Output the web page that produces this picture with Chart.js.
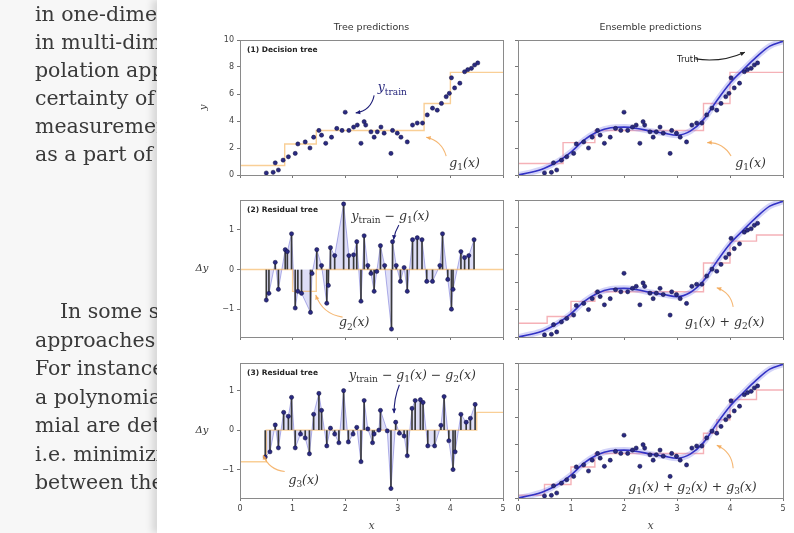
<!DOCTYPE html>
<html>
<head>
<meta charset="utf-8">
<script src="https://cdn.jsdelivr.net/npm/chart.js@4.4.0/dist/chart.umd.min.js"></script>
<style>
html, body { margin: 0; padding: 0; }
body { width: 794px; height: 533px; overflow: hidden; background: #f7f7f7; position: relative; filter: blur(0.55px); }
.page { position: absolute; left: 0; top: 0; width: 158px; height: 533px; overflow: hidden;
        font-family: "DejaVu Serif", serif; font-size: 20.5px; color: #3a3a3a; }
.page div { position: absolute; left: 35px; white-space: nowrap; line-height: 28px; }
#fig { position: absolute; left: 157px; top: 0; width: 637px; height: 533px; background: #fff;
       box-shadow: -5px 0 7px rgba(0,0,0,0.13); }
canvas { position: absolute; }
</style>
</head>
<body>
<div class="page">
  <div style="top:0px">in one-dimensional<br>in multi-dimensional<br>polation approaches<br>certainty of<br>measurements<br>as a part of</div>
  <div style="top:297px; line-height:28.5px"><span style="padding-left:25px">In some situations</span><br>approaches<br>For instance<br>a polynomial<br>mial are determined<br>i.e. minimizing<br>between the</div>
</div>
<div id="fig"></div>
<canvas id="tl" width="340" height="167" style="left:170px;top:18px"></canvas>
<canvas id="tr" width="286" height="167" style="left:508px;top:18px"></canvas>
<canvas id="ml" width="340" height="157" style="left:170px;top:190px"></canvas>
<canvas id="mr" width="286" height="157" style="left:508px;top:190px"></canvas>
<canvas id="bl" width="340" height="180" style="left:170px;top:353px"></canvas>
<canvas id="br" width="286" height="180" style="left:508px;top:353px"></canvas>
<script>
// training data
const xTrain = [0.5,0.63,0.67,0.73,0.82,0.92,1.05,1.1,1.24,1.33,1.4,1.5,1.55,1.63,1.74,1.84,1.94,2.0,2.07,2.16,
  2.23,2.3,2.36,2.39,2.49,2.55,2.61,2.68,2.74,2.87,2.9,2.99,3.06,3.18,3.28,3.37,3.47,3.56,3.66,3.75,
  3.83,3.92,3.98,4.02,4.08,4.18,4.27,4.33,4.4,4.46,4.52];
const yTrain = [0.15,0.2,0.9,0.37,1.1,1.35,1.6,2.3,2.45,2.0,2.8,3.3,2.95,2.35,2.8,3.45,3.3,4.65,3.3,3.55,
  3.7,2.35,3.95,3.7,3.2,2.8,3.2,3.55,3.1,1.6,3.3,3.1,2.8,2.45,3.7,3.85,3.85,4.45,4.95,4.8,
  5.3,5.8,6.05,7.2,6.45,6.8,7.65,7.8,7.9,8.15,8.3];

// residuals after tree 1 and after trees 1+2
const resX1 = [0.5,0.55,0.67,0.73,0.86,0.9,0.98,1.05,1.1,1.17,1.34,1.37,1.46,1.55,1.65,1.68,1.72,1.8,1.97,2.07,
  2.16,2.22,2.3,2.36,2.43,2.49,2.55,2.6,2.67,2.75,2.88,2.9,2.97,3.05,3.12,3.18,3.28,3.37,3.46,3.55,
  3.66,3.8,3.85,3.95,4.02,4.05,4.2,4.27,4.35,4.45];
const resY1 = [-0.77,-0.6,0.18,-0.5,0.5,0.45,0.9,-0.97,-0.55,-0.6,-1.08,-0.1,0.5,0.1,-0.85,-0.4,0.55,0.35,1.65,0.35,
  0.37,0.7,-0.8,0.85,0.1,-0.1,-0.55,-0.05,0.6,0.1,-1.5,0.7,0.1,-0.3,0.05,-0.55,0.75,0.8,0.75,-0.3,
  -0.3,0.1,0.9,-0.25,-1.0,-0.5,0.45,0.3,0.35,0.75];
const resX2 = [0.48,0.57,0.67,0.73,0.83,0.92,0.98,1.05,1.15,1.24,1.32,1.4,1.5,1.55,1.65,1.72,1.8,1.88,1.97,2.06,
  2.15,2.22,2.3,2.36,2.43,2.52,2.55,2.64,2.67,2.8,2.87,2.96,3.03,3.12,3.18,3.27,3.33,3.43,3.48,3.57,
  3.7,3.82,3.88,3.97,4.05,4.09,4.2,4.3,4.38,4.47];
const resY2 = [-0.68,-0.55,0.13,-0.45,0.45,0.35,0.83,-0.45,-0.1,-0.2,-0.6,0.4,0.93,0.5,-0.4,0.05,-0.1,-0.32,1.0,-0.3,
  -0.1,0.07,-0.8,0.75,0.03,-0.32,-0.1,0,0.5,-0.02,-1.48,0.2,-0.08,-0.15,-0.65,0.55,0.75,0.77,0.7,-0.4,
  -0.4,0.12,0.85,-0.27,-1.0,-0.55,0.4,0.2,0.3,0.65];

// true function
const truthX = [0,0.25,0.5,0.75,1,1.25,1.5,1.75,2,2.25,2.5,2.75,3,3.25,3.5,3.75,4,4.25,4.5,4.75,5];
const truthY = [0,0.2,0.5,1.0,1.7,2.6,3.2,3.5,3.55,3.45,3.25,3.1,2.95,3.25,4.1,5.5,6.8,7.8,8.75,9.55,9.9];

// tree step functions: edges and levels
const g1Edges = [0,0.85,1.45,3.5,4.0,5];
const g1Levels = [0.7,2.3,3.3,5.3,7.6];
const g2Edges = [0,1.0,1.45,5];
const g2Levels = [0,-0.55,0];
const g3Edges = [0,0.5,4.5,5];
const g3Levels = [-0.8,0,0.45];
const ens1Levels = [0.85,2.4,3.3,5.3,7.6];
const ens2Edges = [0,0.55,1.0,1.45,3.5,4.0,4.5,5];
const ens2Levels = [1.0,1.5,2.6,3.3,5.4,7.0,7.45];
const ens3Edges = [0,0.5,1.0,1.45,3.5,3.75,4.0,4.5,5];
const ens3Levels = [0.2,1.0,2.3,3.3,4.8,5.8,7.3,8.0];

const xTicks = [0,1,2,3,4,5];

const NAVY = '#1f1f78';
const ORANGE = 'rgba(245,175,80,0.6)';
const ARROW_OR = 'rgba(242,165,80,0.8)';
const PINK = 'rgba(238,125,135,0.6)';

Chart.defaults.font.family = '"DejaVu Sans", sans-serif';
Chart.defaults.font.size = 8;
Chart.defaults.color = '#444';

function pts(xs, ys) { return xs.map((x, i) => ({ x: x, y: ys[i] })); }
function stepPts(edges, levels) {
  const p = levels.map((v, i) => ({ x: edges[i], y: v }));
  p.push({ x: edges[edges.length - 1], y: levels[levels.length - 1] });
  return p;
}

// little math text: y_{train} - g_{1}(x)
function drawMath(ctx, str, x, y, size, color, align) {
  const parts = [];
  const re = /_\{([^}]*)\}/g;
  let last = 0, m;
  while ((m = re.exec(str))) {
    if (m.index > last) parts.push({ t: str.slice(last, m.index), sub: false });
    parts.push({ t: m[1], sub: true });
    last = re.lastIndex;
  }
  if (last < str.length) parts.push({ t: str.slice(last), sub: false });
  const fMain = 'italic ' + size + 'px "DejaVu Serif"';
  const fSub = Math.round(size * 0.68) + 'px "DejaVu Serif"';
  let total = 0;
  parts.forEach(p => { ctx.font = p.sub ? fSub : fMain; p.w = ctx.measureText(p.t).width; total += p.w; });
  let cx = align === 'center' ? x - total / 2 : (align === 'right' ? x - total : x);
  const base = y + size * 0.33;
  ctx.fillStyle = color;
  ctx.textAlign = 'left';
  ctx.textBaseline = 'alphabetic';
  parts.forEach(p => {
    ctx.font = p.sub ? fSub : fMain;
    ctx.fillText(p.t, cx, p.sub ? base + size * 0.25 : base);
    cx += p.w;
  });
}

function drawArrow(ctx, x0, y0, x1, y1, bend, color) {
  const mx = (x0 + x1) / 2, my = (y0 + y1) / 2, dx = x1 - x0, dy = y1 - y0;
  const cx = mx - dy * bend, cy = my + dx * bend;
  ctx.strokeStyle = color;
  ctx.fillStyle = color;
  ctx.lineWidth = 1.1;
  ctx.beginPath();
  ctx.moveTo(x0, y0);
  ctx.quadraticCurveTo(cx, cy, x1, y1);
  ctx.stroke();
  const ang = Math.atan2(y1 - cy, x1 - cx), L = 5;
  ctx.beginPath();
  ctx.moveTo(x1, y1);
  ctx.lineTo(x1 - L * Math.cos(ang - 0.45), y1 - L * Math.sin(ang - 0.45));
  ctx.lineTo(x1 - L * Math.cos(ang + 0.45), y1 - L * Math.sin(ang + 0.45));
  ctx.closePath();
  ctx.fill();
}

// labels, arrows and frames for each panel, in data coordinates
const decor = {
  tl: { colTitle: 'Tree predictions', panel: '(1) Decision tree', yTitle: 'y', rotate: true,
    notes: [{ x: 2.62, y: 6.5, t: 'y_{train}', c: NAVY }, { x: 3.98, y: 0.9, t: 'g_{1}(x)', c: '#333' }],
    arrows: [{ f: [2.55, 5.9], to: [2.2, 4.6], c: NAVY, b: -0.35 }, { f: [3.92, 1.4], to: [3.54, 2.8], c: ARROW_OR, b: 0.3 }] },
  tr: { colTitle: 'Ensemble predictions',
    notes: [{ x: 3.0, y: 8.55, t: 'Truth', c: '#222', sans: true }, { x: 4.1, y: 0.9, t: 'g_{1}(x)', c: '#333' }],
    arrows: [{ f: [3.35, 8.6], to: [4.28, 9.1], c: '#222', b: 0.15 }, { f: [4.02, 1.4], to: [3.57, 2.4], c: ARROW_OR, b: 0.3 }] },
  ml: { panel: '(2) Residual tree', yTitle: '\u0394y',
    notes: [{ x: 2.12, y: 1.36, t: 'y_{train} \u2212 g_{1}(x)', c: '#333' }, { x: 1.88, y: -1.33, t: 'g_{2}(x)', c: '#333' }],
    arrows: [{ f: [3.02, 1.12], to: [2.92, 0.75], c: NAVY, b: 0.1 }, { f: [1.95, -1.2], to: [1.44, -0.64], c: ARROW_OR, b: -0.3 }] },
  mr: {
    notes: [{ x: 3.15, y: 1.1, t: 'g_{1}(x) + g_{2}(x)', c: '#333' }],
    arrows: [{ f: [4.06, 2.2], to: [3.75, 3.6], c: ARROW_OR, b: 0.3 }] },
  bl: { panel: '(3) Residual tree', yTitle: '\u0394y',
    notes: [{ x: 2.07, y: 1.39, t: 'y_{train} \u2212 g_{1}(x) \u2212 g_{2}(x)', c: '#333' }, { x: 0.92, y: -1.27, t: 'g_{3}(x)', c: '#333' }],
    arrows: [{ f: [3.03, 1.15], to: [2.93, 0.43], c: NAVY, b: 0.1 }, { f: [0.85, -1.05], to: [0.44, -0.63], c: ARROW_OR, b: -0.3 }] },
  br: {
    notes: [{ x: 2.08, y: 0.8, t: 'g_{1}(x) + g_{2}(x) + g_{3}(x)', c: '#333' }],
    arrows: [{ f: [4.06, 2.2], to: [3.75, 3.9], c: ARROW_OR, b: 0.3 }] }
};

const decorPlugin = {
  id: 'decor',
  afterDatasetsDraw(chart) {
    const d = decor[chart.canvas.id];
    const ctx = chart.ctx, a = chart.chartArea;
    const sx = chart.scales.x, sy = chart.scales.y;
    ctx.save();
    ctx.strokeStyle = '#8a8a8a';
    ctx.lineWidth = 1;
    ctx.strokeRect(Math.round(a.left) + 0.5, Math.round(a.top) + 0.5, Math.round(a.right - a.left), Math.round(a.bottom - a.top));
    if (d.colTitle) {
      ctx.font = '9.5px "DejaVu Sans"';
      ctx.fillStyle = '#333';
      ctx.textAlign = 'center';
      ctx.textBaseline = 'middle';
      ctx.fillText(d.colTitle, (a.left + a.right) / 2, a.top - 12);
    }
    if (d.panel) {
      ctx.font = 'bold 7.5px "DejaVu Sans"';
      const w = ctx.measureText(d.panel).width;
      ctx.fillStyle = '#fff';
      ctx.fillRect(a.left + 4, a.top + 4, w + 6, 11);
      ctx.fillStyle = '#222';
      ctx.textAlign = 'left';
      ctx.textBaseline = 'middle';
      ctx.fillText(d.panel, a.left + 7, a.top + 10);
    }
    if (d.yTitle) {
      ctx.font = 'italic 10px "DejaVu Serif"';
      ctx.fillStyle = '#333';
      ctx.textAlign = 'center';
      ctx.textBaseline = 'middle';
      const cy = (a.top + a.bottom) / 2;
      if (d.rotate) {
        ctx.translate(a.left - 37, cy);
        ctx.rotate(-Math.PI / 2);
        ctx.fillText(d.yTitle, 0, 0);
        ctx.setTransform(1, 0, 0, 1, 0, 0);
      } else {
        ctx.fillText(d.yTitle, a.left - 38, cy);
      }
    }
    (d.arrows || []).forEach(r => {
      drawArrow(ctx, sx.getPixelForValue(r.f[0]), sy.getPixelForValue(r.f[1]),
        sx.getPixelForValue(r.to[0]), sy.getPixelForValue(r.to[1]), r.b, r.c);
    });
    (d.notes || []).forEach(n => {
      const px = sx.getPixelForValue(n.x), py = sy.getPixelForValue(n.y);
      if (n.sans) {
        ctx.font = '8.5px "DejaVu Sans"';
        ctx.fillStyle = n.c;
        ctx.textAlign = 'left';
        ctx.textBaseline = 'middle';
        ctx.fillText(n.t, px, py);
      } else {
        drawMath(ctx, n.t, px, py, 12.5, n.c, 'left');
      }
    });
    ctx.restore();
  }
};
Chart.register(decorPlugin);

function makePanel(id, o) {
  const showX = !!o.showX, showY = !!o.showY;
  new Chart(document.getElementById(id), {
    type: 'scatter',
    data: { datasets: o.datasets },
    options: {
      responsive: false,
      animation: false,
      devicePixelRatio: 1,
      layout: { padding: { top: o.padTop, right: o.padRight, left: 0, bottom: 0 } },
      plugins: { legend: { display: false }, tooltip: { enabled: false } },
      scales: {
        x: {
          type: 'linear', min: 0, max: 5, offset: false,
          afterBuildTicks: ax => { ax.ticks = xTicks.map(v => ({ value: v })); },
          ticks: { callback: v => showX ? v : '', maxRotation: 0, padding: 3, font: { size: 8 } },
          grid: { drawOnChartArea: false, drawTicks: true, tickLength: 3, color: '#777', offset: false },
          border: { display: true, color: '#8a8a8a' },
          title: { display: showX, text: 'x', font: { size: 11, family: '"DejaVu Serif"', style: 'italic' }, padding: 0 },
          afterFit: ax => { ax.height = o.xH; }
        },
        y: {
          type: 'linear', min: o.yMin, max: o.yMax,
          afterBuildTicks: ax => { ax.ticks = o.yTicks.map(v => ({ value: v })); },
          ticks: { callback: v => showY ? (v < 0 ? '\u2212' + Math.abs(v) : v) : '', padding: 3, font: { size: 8 } },
          grid: { drawOnChartArea: false, drawTicks: true, tickLength: 3, color: '#777' },
          border: { display: true, color: '#8a8a8a' },
          afterFit: ax => { ax.width = o.yW; }
        }
      }
    }
  });
}

function scatterSet(xs, ys) {
  return { type: 'scatter', data: pts(xs, ys), pointRadius: 2.1, pointBackgroundColor: '#2a2a82',
           pointBorderColor: '#10103e', pointBorderWidth: 0.5 };
}
// 'before' keeps each level flat until the next edge
function stepSet(edges, levels, color) {
  return { type: 'line', data: stepPts(edges, levels), stepped: 'before', borderColor: color,
           borderWidth: 1.4, pointRadius: 0, fill: false };
}
function stemSet(xs, ys) {
  return { type: 'bar', data: xs.map((x, i) => ({ x: x, y: [0, ys[i]] })), backgroundColor: '#3a3a3a',
           barThickness: 1, borderWidth: 0 };
}
function shadeSet(xs, ys) {
  return { type: 'line', data: pts(xs, ys), borderColor: 'rgba(80,80,205,0.55)', borderWidth: 0.8,
           backgroundColor: 'rgba(135,135,228,0.28)', fill: { value: 0 }, pointRadius: 0, tension: 0 };
}
function truthSets() {
  return [
    { type: 'line', data: pts(truthX, truthY), borderColor: '#3232c4', borderWidth: 1.6, pointRadius: 0,
      cubicInterpolationMode: 'monotone', fill: false },
    { type: 'line', data: pts(truthX, truthY), borderColor: 'rgba(125,125,235,0.33)', borderWidth: 6, pointRadius: 0,
      cubicInterpolationMode: 'monotone', fill: false }
  ];
}

const leftBox = { yW: 70, padRight: 7, showY: true };
const rightBox = { yW: 10, padRight: 11, showY: false };
const topY = { yMin: 0, yMax: 10, yTicks: [0, 2, 4, 6, 8, 10] };

makePanel('tl', Object.assign({}, leftBox, topY, { padTop: 22, xH: 10,
  datasets: [scatterSet(xTrain, yTrain), stepSet(g1Edges, g1Levels, ORANGE)] }));
makePanel('tr', Object.assign({}, rightBox, topY, { padTop: 22, xH: 10,
  datasets: [scatterSet(xTrain, yTrain)].concat(truthSets(), [stepSet(g1Edges, ens1Levels, PINK)]) }));
makePanel('ml', Object.assign({}, leftBox, { padTop: 10, xH: 10, yMin: -1.7, yMax: 1.75, yTicks: [-1, 0, 1],
  datasets: [scatterSet(resX1, resY1), stemSet(resX1, resY1), stepSet(g2Edges, g2Levels, ORANGE), shadeSet(resX1, resY1)] }));
makePanel('mr', Object.assign({}, rightBox, topY, { padTop: 10, xH: 10,
  datasets: [scatterSet(xTrain, yTrain)].concat(truthSets(), [stepSet(ens2Edges, ens2Levels, PINK)]) }));
makePanel('bl', Object.assign({}, leftBox, { padTop: 10, xH: 35, showX: true, yMin: -1.72, yMax: 1.7, yTicks: [-1, 0, 1],
  datasets: [scatterSet(resX2, resY2), stemSet(resX2, resY2), stepSet(g3Edges, g3Levels, ORANGE), shadeSet(resX2, resY2)] }));
makePanel('br', Object.assign({}, rightBox, topY, { padTop: 10, xH: 35, showX: true,
  datasets: [scatterSet(xTrain, yTrain)].concat(truthSets(), [stepSet(ens3Edges, ens3Levels, PINK)]) }));
</script>
</body>
</html>
